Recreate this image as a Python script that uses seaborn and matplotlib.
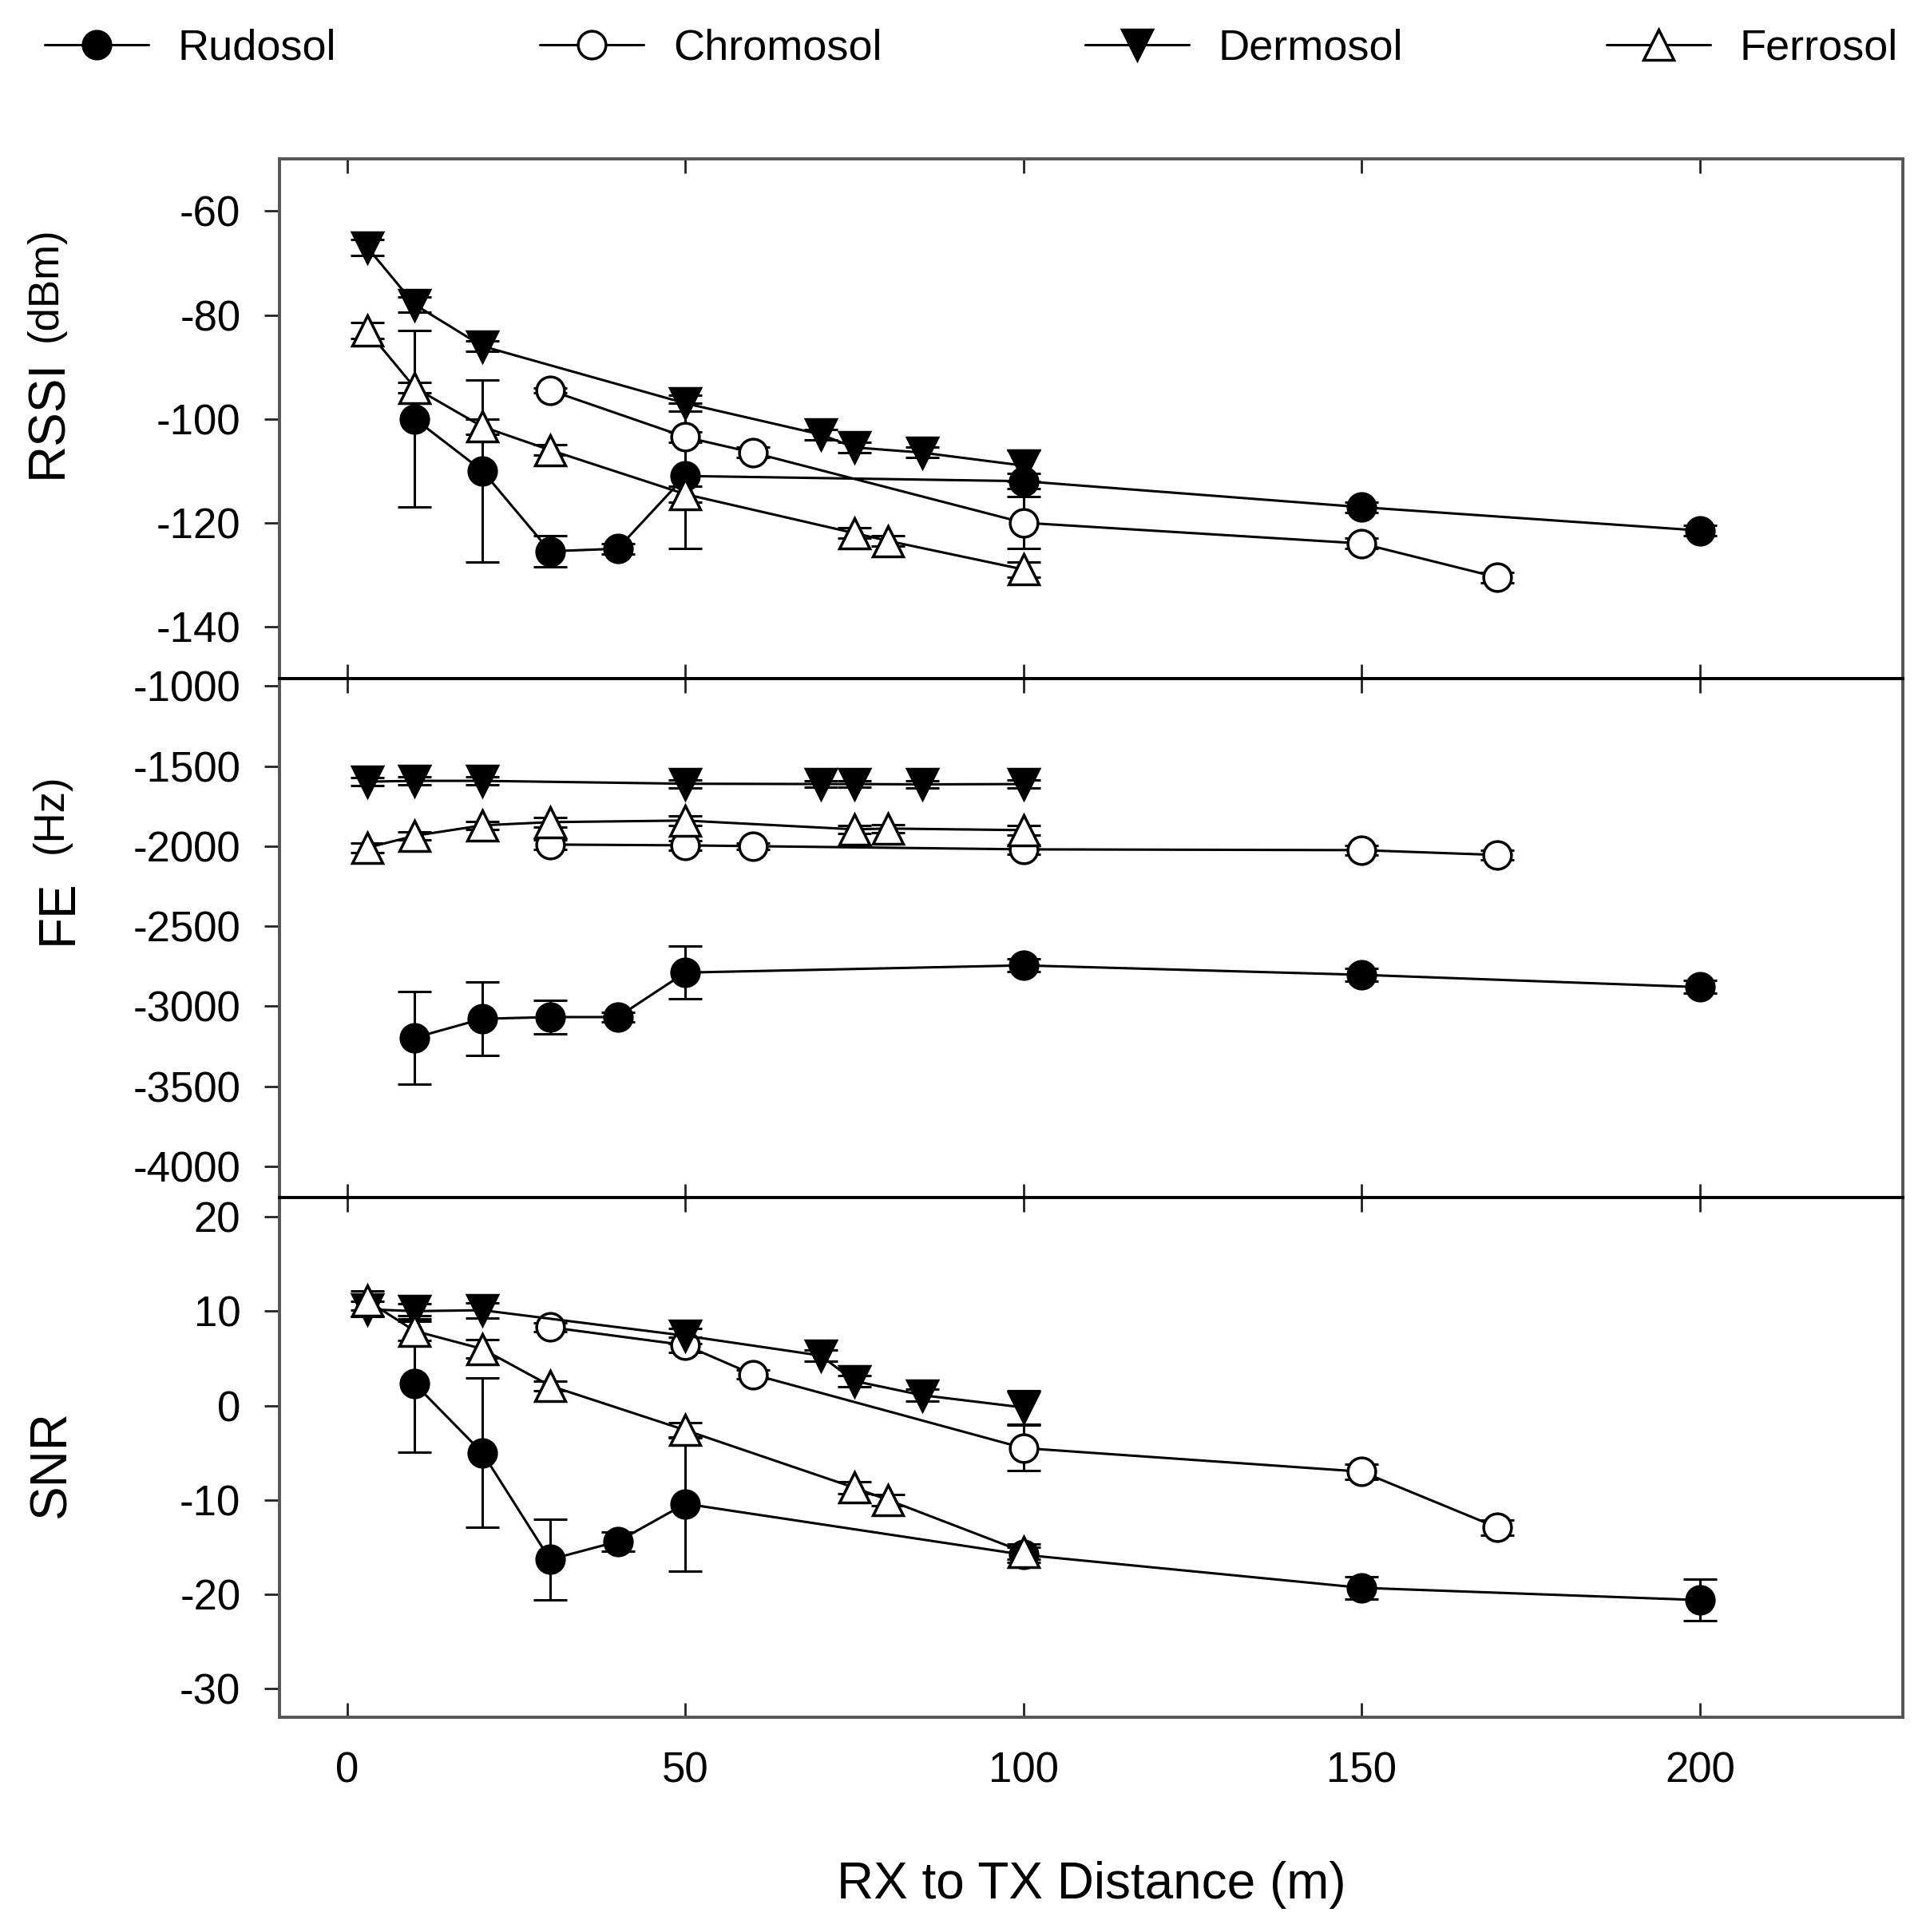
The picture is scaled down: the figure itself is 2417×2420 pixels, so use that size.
import numpy as np
import pandas as pd
import seaborn as sns
import matplotlib.pyplot as plt

# soil types and the distances (m) each one was measured at
soils = ['Rudosol', 'Chromosol', 'Dermosol', 'Ferrosol']
rudosol_x = [10, 20, 30, 40, 50, 100, 150, 200]
chromosol_x = [30, 50, 60, 100, 150, 170]
dermosol_x = [3, 10, 20, 50, 70, 75, 85, 100]
ferrosol_x = [3, 10, 20, 30, 50, 75, 80, 100]

# RSSI (dBm)
rssi_rudosol = [-100, -110, -125.5, -125, -111, -112, -117, -121.5]
rssi_rudosol_err = [17, 17.5, 3, 1, 14, 1.5, 1, 1]
rssi_chromosol = [-94.5, -103.5, -106.5, -120, -124, -130.5]
rssi_chromosol_err = [0.5, 1, 1, 5, 1, 1]
rssi_dermosol = [-67, -78, -86, -97, -103, -105.5, -106.5, -109]
rssi_dermosol_err = [1.5, 1.5, 1, 1.5, 1, 1, 1, 3]
rssi_ferrosol = [-83, -94, -101.5, -106, -114.5, -122, -123.5, -129]
rssi_ferrosol_err = [1.5, 1, 1.5, 1, 1.5, 1, 1, 1.5]

# frequency error (Hz)
fe_rudosol = [-3197, -3079, -3068, -3068, -2790, -2745, -2804, -2881]
fe_rudosol_err = [290, 230, 105, 30, 165, 40, 40, 40]
fe_chromosol = [-1990, -1995, -2000, -2020, -2025, -2055]
fe_chromosol_err = [30, 30, 20, 30, 30, 30]
fe_dermosol = [-1597, -1592, -1592, -1610, -1612, -1612, -1614, -1612]
fe_dermosol_err = [25, 25, 25, 25, 20, 20, 20, 25]
fe_ferrosol = [-2010, -1935, -1870, -1850, -1840, -1895, -1890, -1900]
fe_ferrosol_err = [30, 25, 25, 30, 30, 25, 25, 30]

# SNR
snr_rudosol = [2.3, -5.0, -16.3, -14.4, -10.4, -15.8, -19.3, -20.6]
snr_rudosol_err = [7.2, 7.9, 4.3, 1.0, 7.1, 0.8, 1.2, 2.2]
snr_chromosol = [8.3, 6.4, 3.3, -4.5, -7.0, -12.9]
snr_chromosol_err = [0.5, 0.8, 0.5, 2.4, 0.8, 0.8]
snr_dermosol = [10.2, 10.0, 10.1, 7.4, 5.3, 2.6, 1.1, -0.2]
snr_dermosol_err = [0.8, 0.8, 0.8, 0.8, 0.6, 0.6, 0.6, 1.8]
snr_ferrosol = [11.1, 7.9, 6.0, 2.1, -2.6, -8.7, -10.0, -15.5]
snr_ferrosol_err = [1.0, 1.0, 1.0, 0.5, 0.8, 0.6, 0.6, 0.8]

x_by_soil = dict(zip(soils, [rudosol_x, chromosol_x, dermosol_x, ferrosol_x]))
panels = [
    (dict(zip(soils, [rssi_rudosol, rssi_chromosol, rssi_dermosol, rssi_ferrosol])),
     dict(zip(soils, [rssi_rudosol_err, rssi_chromosol_err, rssi_dermosol_err, rssi_ferrosol_err])),
     (-150, -50), [-60, -80, -100, -120, -140]),
    (dict(zip(soils, [fe_rudosol, fe_chromosol, fe_dermosol, fe_ferrosol])),
     dict(zip(soils, [fe_rudosol_err, fe_chromosol_err, fe_dermosol_err, fe_ferrosol_err])),
     (-4200, -955), [-1000, -1500, -2000, -2500, -3000, -3500, -4000]),
    (dict(zip(soils, [snr_rudosol, snr_chromosol, snr_dermosol, snr_ferrosol])),
     dict(zip(soils, [snr_rudosol_err, snr_chromosol_err, snr_dermosol_err, snr_ferrosol_err])),
     (-33, 22), [20, 10, 0, -10, -20, -30]),
]

marker_style = {
    'Rudosol': ('o', 'black', 25),
    'Chromosol': ('o', 'white', 25),
    'Dermosol': ('v', 'black', 27),
    'Ferrosol': ('^', 'white', 27),
}

sns.set_theme(style='white')
plt.rcParams['font.family'] = ['Liberation Sans', 'DejaVu Sans']
plt.rcParams['axes.unicode_minus'] = False
plt.rcParams['text.color'] = 'black'
plt.rcParams['xtick.color'] = 'black'
plt.rcParams['ytick.color'] = 'black'

fig = plt.figure(figsize=(24.17, 24.20), dpi=100)
left, width = 0.1448, 0.8411
bottoms = [0.6488, 0.3798, 0.1112]
height = 0.2688

axes = []
for i, (vals, errs, ylim, yticks) in enumerate(panels):
    ax = fig.add_axes([left, bottoms[i], width, height])
    for soil in soils:
        df = pd.DataFrame({'distance': x_by_soil[soil], 'value': vals[soil]})
        mk, fc, ms = marker_style[soil]
        ax.errorbar(df['distance'], df['value'], yerr=errs[soil], fmt='none',
                    ecolor='black', elinewidth=2.2, capsize=15, capthick=2.2, zorder=1.5)
        sns.lineplot(data=df, x='distance', y='value', ax=ax, color='black',
                     marker=mk, markersize=ms, markerfacecolor=fc,
                     markeredgecolor='black', markeredgewidth=2.5,
                     linewidth=2.2, label=soil, errorbar=None, zorder=2)
    ax.set_xlim(-10, 230)
    ax.set_ylim(*ylim)
    ax.set_yticks(yticks)
    ax.set_xticks([0, 50, 100, 150, 200])
    ax.set_xlabel('')
    ax.set_ylabel('')
    ax.tick_params(axis='x', direction='in', top=True, bottom=True, length=13,
                   width=2, color='#222222', labelsize=38, pad=31,
                   labelcolor='black', labelbottom=(i == 2))
    ax.tick_params(axis='y', direction='out', left=True, right=False, length=14,
                   width=2, color='#222222', labelsize=38, pad=21, labelcolor='black')
    for sp in ax.spines.values():
        sp.set_color('#555555')
        sp.set_linewidth(2.8)
    if i > 0:
        ax.spines['top'].set_color('black')
    if i < 2:
        ax.spines['bottom'].set_color('black')
    ax.get_legend().remove()
    axes.append(ax)

# y axis titles (main word + smaller unit)
fig.text(0.0248, 1 - 599 / 2420, 'RSSI', rotation=90, ha='center', va='bottom', fontsize=46)
fig.text(0.0236, 1 - 428 / 2420, '(dBm)', rotation=90, ha='center', va='bottom', fontsize=38)
fig.text(0.0302, 1 - 1183 / 2420, 'FE', rotation=90, ha='center', va='bottom', fontsize=46)
fig.text(0.0265, 1 - 1069 / 2420, '(Hz)', rotation=90, ha='center', va='bottom', fontsize=38)
fig.text(0.0269, 1 - 1902 / 2420, 'SNR', rotation=90, ha='center', va='bottom', fontsize=46)

fig.text(left + width / 2, 0.0245, 'RX to TX Distance (m)', ha='center', va='center', fontsize=46)

handles, labels = axes[0].get_legend_handles_labels()
fig.legend(handles, labels, loc='center left', bbox_to_anchor=(56 / 2417, 0.975),
           ncol=4, frameon=False, fontsize=39, handlelength=2.4, handletextpad=0.68,
           columnspacing=4.7, borderpad=0, borderaxespad=0)

fig.savefig('out.png', dpi=100)
